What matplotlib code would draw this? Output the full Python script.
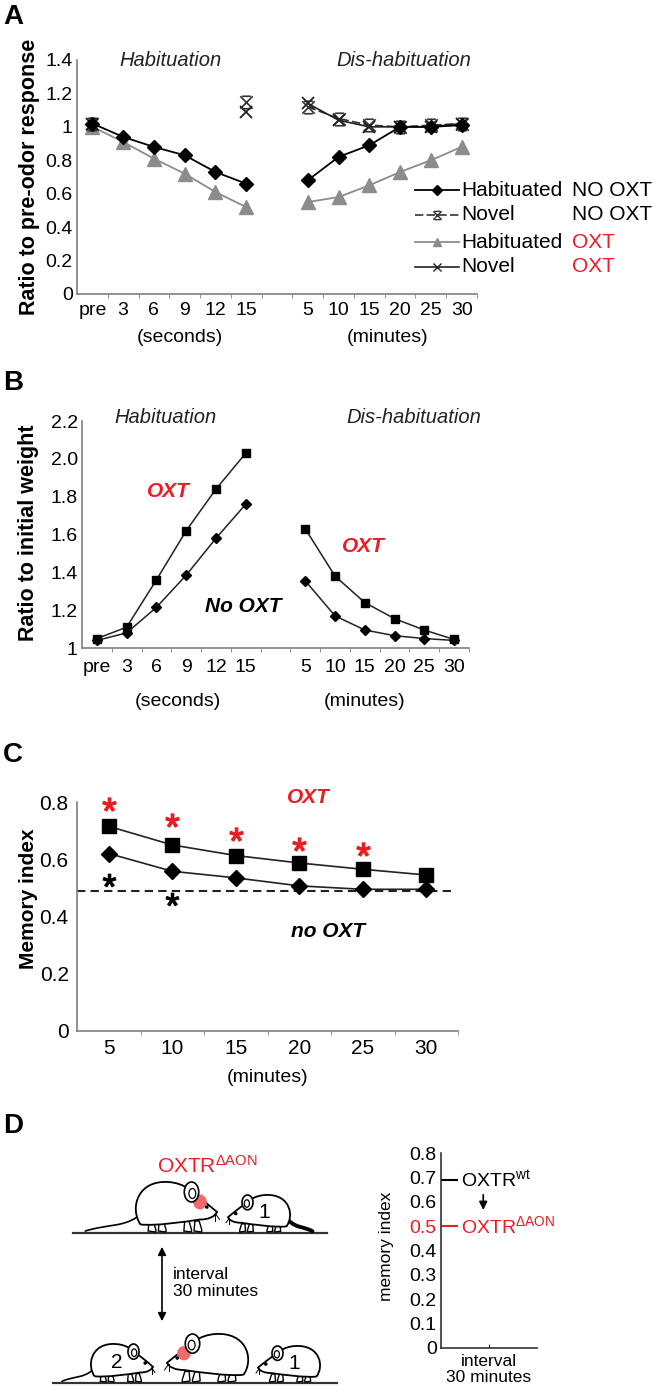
import numpy as np
import matplotlib
matplotlib.use("Agg")
import matplotlib.pyplot as plt
from matplotlib.lines import Line2D
from matplotlib.path import Path
from matplotlib.patches import PathPatch, Ellipse, Circle

plt.rcParams["font.family"] = ["Liberation Sans", "DejaVu Sans"]
plt.rcParams["mathtext.fontset"] = "custom"
plt.rcParams["mathtext.rm"] = "Liberation Sans"
plt.rcParams["mathtext.it"] = "Liberation Sans:italic"
plt.rcParams["mathtext.bf"] = "Liberation Sans:bold"

W, H = 656, 1395
RED = "#ec1c24"
GRAY = "#8c8c8c"
AXIS = "#7f7f7f"
nan = np.nan

# ---- panel A: ratio to pre-odor response
cats_a = ["pre", "3", "6", "9", "12", "15", "", "5", "10", "15", "20", "25", "30"]
hab_no_oxt_a = [1.02, 0.94, 0.88, 0.83, 0.73, 0.66, nan, 0.68, 0.82, 0.89, 1.00, 1.00, 1.01]
nov_no_oxt_a = [1.02, nan, nan, nan, nan, 1.15, nan, 1.12, 1.05, 1.01, 1.00, 1.01, 1.02]
hab_oxt_a = [1.00, 0.91, 0.81, 0.72, 0.61, 0.52, nan, 0.55, 0.58, 0.65, 0.73, 0.80, 0.88]
nov_oxt_a = [1.02, nan, nan, nan, nan, 1.09, nan, 1.14, 1.04, 1.00, 1.00, 1.00, 1.02]
yticks_a = [0, 0.2, 0.4, 0.6, 0.8, 1.0, 1.2, 1.4]
ylabels_a = ["0", "0.2", "0.4", "0.6", "0.8", "1", "1.2", "1.4"]

# ---- panel B: ratio to initial weight
cats_b = cats_a
oxt_b = [1.05, 1.11, 1.36, 1.62, 1.84, 2.03, nan, 1.63, 1.38, 1.24, 1.155, 1.095, 1.045]
no_oxt_b = [1.04, 1.08, 1.215, 1.385, 1.58, 1.76, nan, 1.355, 1.17, 1.095, 1.065, 1.05, 1.04]
yticks_b = [1.0, 1.2, 1.4, 1.6, 1.8, 2.0, 2.2]
ylabels_b = ["1", "1.2", "1.4", "1.6", "1.8", "2.0", "2.2"]

# ---- panel C: memory index
cats_c = ["5", "10", "15", "20", "25", "30"]
oxt_c = [0.715, 0.65, 0.613, 0.587, 0.565, 0.545]
no_oxt_c = [0.62, 0.558, 0.535, 0.507, 0.495, 0.495]
chance_c = 0.49
red_star_idx = [0, 1, 2, 3, 4]
red_star_y = [0.794, 0.738, 0.689, 0.654, 0.637]
black_star_idx = [0, 1]
black_star_y = [0.527, 0.462]
yticks_c = [0, 0.2, 0.4, 0.6, 0.8]
ylabels_c = ["0", "0.2", "0.4", "0.6", "0.8"]

# ---- panel D: memory index at 30 min interval
d_values = [0.69, 0.50]
d_labels = [r"OXTR$^{\mathrm{wt}}$", r"OXTR$^{\mathrm{\Delta AON}}$"]
d_colors = ["black", RED]
yticks_d = [0, 0.1, 0.2, 0.3, 0.4, 0.5, 0.6, 0.7, 0.8]
ylabels_d = ["0", "0.1", "0.2", "0.3", "0.4", "0.5", "0.6", "0.7", "0.8"]


def rect(left, top, right, bottom):
    return [left / W, 1 - bottom / H, (right - left) / W, (bottom - top) / H]


def style_axes(ax, color=AXIS):
    for s in ("top", "right"):
        ax.spines[s].set_visible(False)
    for s in ("left", "bottom"):
        ax.spines[s].set_color(color)
        ax.spines[s].set_linewidth(1.2)
    ax.tick_params(axis="y", length=0, pad=3, labelsize=14)
    ax.tick_params(axis="x", which="major", length=0, labelsize=14)
    ax.tick_params(axis="x", which="minor", length=3, direction="out", color=color)


def category_axis(ax, cats, pad):
    n = len(cats)
    ax.set_xlim(-0.5, n - 0.5)
    ax.set_xticks(range(n))
    ax.set_xticklabels(cats)
    ax.set_xticks(np.arange(0.5, n, 1), minor=True)
    ax.tick_params(axis="x", which="major", pad=pad)


xbar = Path([(-1, -1), (1, 1), (-1, 1), (1, -1), (-0.7, 1), (0.7, 1), (-0.7, -1), (0.7, -1)],
            [Path.MOVETO, Path.LINETO] * 4)

fig = plt.figure(figsize=(W / 100, H / 100), dpi=100)

# ================= A
ax = fig.add_axes(rect(77, 60, 477, 294))
ax.patch.set_alpha(0)
style_axes(ax)
xa = np.arange(len(cats_a))
ax.plot(xa, hab_oxt_a, color=GRAY, lw=1.3, marker="^", ms=10, mec=GRAY, mfc=GRAY)
ax.plot(xa, nov_no_oxt_a, color="#333333", lw=1.2, ls=(0, (5, 2)), marker=xbar, ms=9,
        mfc="none", mec="#333333", mew=1.2)
ax.plot(xa, nov_oxt_a, color="#222222", lw=1.2, marker="x", ms=9, mew=1.3, mec="#222222")
ax.plot(xa, hab_no_oxt_a, color="black", lw=1.3, marker="D", ms=7.5, mfc="black", mec="black")
ax.set_ylim(0, 1.4)
ax.set_yticks(yticks_a)
ax.set_yticklabels(ylabels_a)
category_axis(ax, cats_a, pad=6)
ax.text(2.55, 1.395, "Habituation", style="italic", fontsize=14.5, ha="center", va="center",
        color="#222222")
ax.text(10.13, 1.395, "Dis-habituation", style="italic", fontsize=14.5, ha="center",
        va="center", color="#222222")

# ================= B
ax = fig.add_axes(rect(82, 421, 469, 648))
style_axes(ax)
xb = np.arange(len(cats_b))
ax.plot(xb, oxt_b, color="#222222", lw=1.1, marker="s", ms=5.5, mfc="black", mec="black")
ax.plot(xb, no_oxt_b, color="#222222", lw=1.1, marker="D", ms=5, mfc="black", mec="black")
ax.set_ylim(1.0, 2.2)
ax.set_yticks(yticks_b)
ax.set_yticklabels(ylabels_b)
category_axis(ax, cats_b, pad=8)
ax.text(2.29, 2.22, "Habituation", style="italic", fontsize=14.5, ha="center", va="center",
        color="#222222")
ax.text(10.64, 2.22, "Dis-habituation", style="italic", fontsize=14.5, ha="center",
        va="center", color="#222222")
ax.text(2.39, 1.825, "OXT", style="italic", weight="bold", fontsize=15, color=RED,
        ha="center", va="center")
ax.text(8.96, 1.534, "OXT", style="italic", weight="bold", fontsize=15, color=RED,
        ha="center", va="center")
ax.text(4.92, 1.217, "No OXT", style="italic", weight="bold", fontsize=15, color="black",
        ha="center", va="center")

# ================= C
ax = fig.add_axes(rect(77, 802, 458, 1031))
style_axes(ax)
ax.tick_params(axis="both", labelsize=15)
ax.tick_params(axis="y", pad=6)
xc = np.arange(len(cats_c))
ax.axhline(chance_c, xmin=0, xmax=0.985, color="#222222", lw=1.5, ls=(0, (4, 2.5)))
ax.plot(xc, oxt_c, color="#222222", lw=1.2, marker="s", ms=9.5, mfc="black", mec="black")
ax.plot(xc, no_oxt_c, color="#222222", lw=1.2, marker="D", ms=8, mfc="black", mec="black")
ax.plot(xc[red_star_idx], red_star_y, ls="none", marker="$*$", ms=9.5, color=RED,
        clip_on=False)
ax.plot(xc[black_star_idx], black_star_y, ls="none", marker="$*$", ms=9, color="black",
        clip_on=False)
ax.set_ylim(0, 0.8)
ax.set_yticks(yticks_c)
ax.set_yticklabels(ylabels_c)
category_axis(ax, cats_c, pad=6)
ax.text(3.15, 0.816, "OXT", style="italic", weight="bold", fontsize=15, color=RED,
        ha="center", va="center")
ax.text(3.45, 0.346, "no OXT", style="italic", weight="bold", fontsize=15, color="black",
        ha="center", va="center")

# ================= D (chart)
ax = fig.add_axes(rect(441, 1153, 537, 1348))
for s in ("top", "right"):
    ax.spines[s].set_visible(False)
for s in ("left", "bottom"):
    ax.spines[s].set_color("#333333")
    ax.spines[s].set_linewidth(1.2)
ax.set_xlim(0, 1)
ax.set_ylim(0, 0.8)
ax.set_yticks(yticks_d)
ax.set_yticklabels(ylabels_d)
ax.tick_params(axis="y", length=0, pad=3, labelsize=14)
ax.set_xticks([0.5])
ax.set_xticklabels([])
ax.tick_params(axis="x", length=3, direction="in", color="#333333")
for lbl, c in zip(ax.get_yticklabels(), ["black"] * 5 + [RED] + ["black"] * 3):
    lbl.set_color(c)
for v, lab, c in zip(d_values, d_labels, d_colors):
    ax.plot([0, 0.18], [v, v], color=c, lw=1.5, solid_capstyle="butt")
    ax.text(0.21, v - 0.03, lab, color=c, fontsize=14, ha="left", va="baseline", clip_on=False)
ax.annotate("", xy=(0.44, 0.555), xytext=(0.44, 0.64),
            arrowprops=dict(arrowstyle="-|>", lw=1.2, color="black", mutation_scale=12))
ax.text(0.5, -0.03, "interval\n30 minutes", transform=ax.transAxes, ha="center", va="top",
        fontsize=12.5, linespacing=1.1)

# ================= overlay in pixel coordinates
ov = fig.add_axes([0, 0, 1, 1])
ov.set_xlim(0, W)
ov.set_ylim(H, 0)
ov.axis("off")
ov.patch.set_alpha(0)

for letter, yc in zip("ABCD", [17, 383, 755, 1126]):
    ov.text(3, yc, letter, fontsize=20, weight="bold", ha="left", va="center")

ylabel_spec = [("Ratio to pre-odor response", 30, 177, 15.5, "bold"),
               ("Ratio to initial weight", 29, 533, 15.5, "bold"),
               ("Memory index", 29, 899, 15, "bold"),
               ("memory index", 386, 1246, 12.5, "normal")]
for txt, xc_, yc_, fs, wt in ylabel_spec:
    ov.text(xc_, yc_, txt, rotation=90, fontsize=fs, weight=wt, ha="center", va="center")

for txt, xc_, yc_ in [("(seconds)", 180, 338), ("(minutes)", 388, 338),
                      ("(seconds)", 178, 702), ("(minutes)", 365, 702),
                      ("(minutes)", 268, 1077)]:
    ov.text(xc_, yc_, txt, fontsize=14, ha="center", va="center")

# legend of panel A
legend_rows = [
    ("Habituated", "NO OXT", "black", dict(color="black", lw=1.3, marker="D", ms=5)),
    ("Novel", "NO OXT", "black", dict(color="#333333", lw=1.2, ls=(0, (5, 2)), marker=xbar,
                                      ms=6, mfc="none", mew=1.0)),
    ("Habituated", "OXT", RED, dict(color=GRAY, lw=1.3, marker="^", ms=6, mec=GRAY)),
    ("Novel", "OXT", RED, dict(color="#222222", lw=1.2, marker="x", ms=6, mew=1.0)),
]
for (name, cond, ccol, kw), yc_ in zip(legend_rows, [190, 215, 242, 267]):
    ov.add_line(Line2D([415, 437, 459], [yc_, yc_, yc_], markevery=[1], **kw))
    ov.text(461, yc_, name, fontsize=15, ha="left", va="center")
    ov.text(572, yc_, cond, fontsize=15, ha="left", va="center", color=ccol)


def draw_mouse(ax, rear_x, ground_y, length, height, facing=1, label=None,
               red=False, tail=0.5, dark_tail=False):
    def tx(u, v):
        return (rear_x + facing * u * length, ground_y - v * height)

    if tail > 0:
        tp = [tx(0.06, 0.3), tx(-0.2 * tail, 0.1), tx(-0.5 * tail, 0.16), tx(-tail, 0.02)]
        ax.add_patch(PathPatch(Path(tp, [Path.MOVETO] + [Path.CURVE4] * 3), fc="none",
                               ec="black", lw=2.8 if dark_tail else 1.2, zorder=3,
                               capstyle="round"))
    for u0 in (0.2, 0.32, 0.62, 0.74):
        lp = [tx(u0, 0.22), tx(u0 - 0.01, 0.02), tx(u0 + 0.08, 0.0), tx(u0 + 0.08, 0.05),
              tx(u0 + 0.05, 0.22)]
        ax.add_patch(PathPatch(Path(lp + [lp[0]], [Path.MOVETO] + [Path.LINETO] * 4
                                    + [Path.CLOSEPOLY]),
                               fc="white", ec="black", lw=1.0, zorder=4))
    bp = [(0.1, 0.15), (-0.02, 0.45), (0.05, 0.97), (0.36, 1.0),
          (0.56, 1.02), (0.68, 0.86), (0.74, 0.76),
          (0.82, 0.66), (0.93, 0.5), (1.0, 0.4),
          (0.97, 0.3), (0.9, 0.25), (0.8, 0.25),
          (0.6, 0.2), (0.3, 0.12), (0.1, 0.15)]
    verts = [tx(u, v) for u, v in bp]
    ax.add_patch(PathPatch(Path(verts, [Path.MOVETO] + [Path.CURVE4] * 15),
                           fc="white", ec="black", lw=1.3, zorder=5))
    if red:
        ax.add_patch(Ellipse(tx(0.8, 0.6), 0.16 * length, 0.3 * height,
                             fc="#f06a6a", ec="none", zorder=6))
    ax.add_patch(Ellipse(tx(0.7, 0.8), 0.17 * length, 0.4 * height,
                         fc="white", ec="black", lw=1.2, zorder=7))
    ax.add_patch(Ellipse(tx(0.71, 0.77), 0.08 * length, 0.2 * height,
                         fc="none", ec="black", lw=0.9, zorder=7))
    ax.add_patch(Circle(tx(0.88, 0.5), 1.8, fc="black", ec="none", zorder=8))
    for end in (tx(1.03, 0.25), tx(0.98, 0.22)):
        start = tx(0.98, 0.37)
        ax.plot([start[0], end[0]], [start[1], end[1]], color="black", lw=0.7, zorder=8)
    if label:
        ax.text(*tx(0.45, 0.52), label, fontsize=15, ha="center", va="center", zorder=9)


ov.plot([73, 327], [1233, 1233], color="#333333", lw=1.6)
ov.plot([53, 337], [1383, 1383], color="#333333", lw=1.6)
draw_mouse(ov, 132, 1232, 85, 50, facing=1, red=True, tail=0.55)
draw_mouse(ov, 293, 1232, 65, 37, facing=-1, label="1", tail=0.3, dark_tail=True)
draw_mouse(ov, 88, 1382, 65, 38, facing=1, label="2", tail=0.4)
draw_mouse(ov, 252, 1382, 85, 48, facing=-1, red=True, tail=0)
draw_mouse(ov, 323, 1382, 65, 36, facing=-1, label="1", tail=0)

ov.text(157, 1173, r"OXTR$^{\mathrm{\Delta AON}}$", fontsize=15, color=RED,
        ha="left", va="baseline")
ov.annotate("", xy=(162, 1244), xytext=(162, 1324),
            arrowprops=dict(arrowstyle="<|-|>", lw=1.2, color="black", mutation_scale=12))
ov.text(173, 1283, "interval\n30 minutes", fontsize=12.5, ha="left", va="center",
        linespacing=1.2)

fig.savefig("out.png", dpi=100)
